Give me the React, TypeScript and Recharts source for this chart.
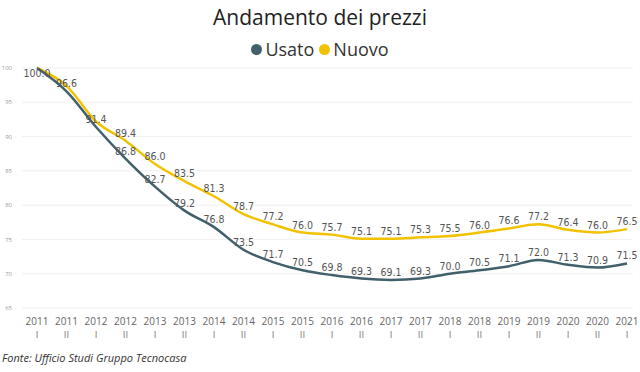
import { LineChart, Line, XAxis, YAxis, CartesianGrid, LabelList } from 'recharts';

const PERIODS = [
  '2011 I', '2011 II', '2012 I', '2012 II', '2013 I', '2013 II', '2014 I', '2014 II',
  '2015 I', '2015 II', '2016 I', '2016 II', '2017 I', '2017 II', '2018 I', '2018 II',
  '2019 I', '2019 II', '2020 I', '2020 II', '2021 I',
];
const USATO = [
  100.0, 96.6, 91.4, 86.8, 82.7, 79.2, 76.8, 73.5, 71.7, 70.5, 69.8,
  69.3, 69.1, 69.3, 70.0, 70.5, 71.1, 72.0, 71.3, 70.9, 71.5,
];
const NUOVO = [
  100.0, 97.4, 92.2, 89.4, 86.0, 83.5, 81.3, 78.7, 77.2, 76.0, 75.7,
  75.1, 75.1, 75.3, 75.5, 76.0, 76.6, 77.2, 76.4, 76.0, 76.5,
];
// labels Power BI hid because they overlapped
const HIDDEN_USATO = [0];
const HIDDEN_NUOVO = [1, 2];
const Y_TICKS = [65, 70, 75, 80, 85, 90, 95, 100];

const COLOR_USATO = '#41606b';
const COLOR_NUOVO = '#f2c200';

const data = PERIODS.map((period, i) => ({ period, usato: USATO[i], nuovo: NUOVO[i] }));

function PeriodTick({ x, y, payload }: any) {
  const [year, half] = String(payload.value).split(' ');
  return (
    <g transform={`translate(${x},${y})`}>
      <text textAnchor="middle" y={9} fontSize={10} fill="#666" fontFamily="'Open Sans', sans-serif">
        {year}
      </text>
      <text textAnchor="middle" y={22} fontSize={9} fill="#888" fontFamily="'DejaVu Sans', sans-serif">
        {half}
      </text>
    </g>
  );
}

function makeLabel(hidden: number[]) {
  return function ValueLabel({ x, y, value, index }: any) {
    if (hidden.includes(index)) return null;
    const below = index === 0;
    return (
      <text
        x={x}
        y={below ? y + 9 : y - 4}
        textAnchor="middle"
        fontSize={10.5}
        fill="#555"
        fontFamily="'DejaVu Sans Condensed', 'DejaVu Sans', sans-serif"
      >
        {Number(value).toFixed(1)}
      </text>
    );
  };
}

export default function App() {
  return (
    <div style={{ position: 'absolute', left: 0, top: 0, width: 640, height: 372, background: '#fff', fontFamily: "'Open Sans', sans-serif" }}>
      <div style={{ position: 'absolute', top: 3, width: 640, textAlign: 'center', fontSize: 21, color: '#222' }}>
        Andamento dei prezzi
      </div>
      <div style={{ position: 'absolute', top: 37, width: 640, display: 'flex', justifyContent: 'center', alignItems: 'center', fontSize: 18, color: '#333' }}>
        <span style={{ width: 11, height: 11, borderRadius: 6, background: COLOR_USATO, marginRight: 3 }} />
        <span style={{ marginRight: 5 }}>Usato</span>
        <span style={{ width: 11, height: 11, borderRadius: 6, background: COLOR_NUOVO, marginRight: 3 }} />
        <span>Nuovo</span>
      </div>
      <LineChart width={640} height={372} data={data} margin={{ top: 68, right: 7, bottom: 30, left: 0 }}>
        <CartesianGrid vertical={false} stroke="#f0f0f0" />
        <XAxis
          dataKey="period"
          axisLine={false}
          tickLine={false}
          interval={0}
          height={34}
          padding={{ left: 15, right: 6 }}
          tick={<PeriodTick />}
        />
        <YAxis
          domain={[65, 100]}
          ticks={Y_TICKS}
          width={22}
          axisLine={false}
          tickLine={false}
          tickMargin={4}
          tick={{ fontSize: 6, fill: '#999' }}
        />
        <Line dataKey="nuovo" stroke={COLOR_NUOVO} strokeWidth={2.5} dot={false} type="monotone" isAnimationActive={false}>
          <LabelList dataKey="nuovo" content={makeLabel(HIDDEN_NUOVO)} />
        </Line>
        <Line dataKey="usato" stroke={COLOR_USATO} strokeWidth={2.5} dot={false} type="monotone" isAnimationActive={false}>
          <LabelList dataKey="usato" content={makeLabel(HIDDEN_USATO)} />
        </Line>
      </LineChart>
      <div style={{ position: 'absolute', top: 350, left: 2, fontSize: 11, fontStyle: 'italic', color: '#333' }}>
        Fonte: Ufficio Studi Gruppo Tecnocasa
      </div>
    </div>
  );
}
